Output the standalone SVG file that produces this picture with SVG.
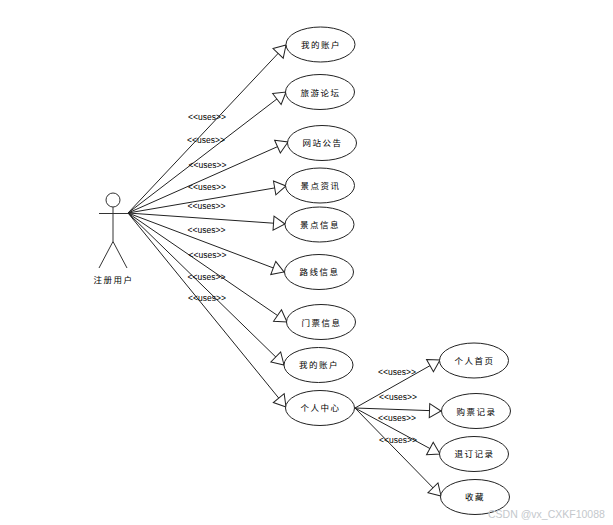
<svg xmlns="http://www.w3.org/2000/svg" width="613" height="525" viewBox="0 0 613 525">
<style>
.n{fill:#fff;stroke:#222;stroke-width:1}
.c{fill:none;stroke:#222;stroke-width:1;marker-end:url(#tri)}
.a{fill:none;stroke:#333;stroke-width:1}
text{font-family:"Liberation Sans","Noto Sans CJK SC",sans-serif;fill:#000;text-anchor:middle;dominant-baseline:central}
.t{font-size:8.5px;letter-spacing:1.5px}
.u{font-size:8.5px}
.w{font-size:10.5px;fill:#c4c8cc;text-anchor:start}
</style>
<defs>
<marker id="tri" markerUnits="userSpaceOnUse" markerWidth="14" markerHeight="18" refX="12" refY="8" orient="auto" overflow="visible">
<path d="M0.5,1 L12,8 L0.5,15 Z" fill="#fff" stroke="#222" stroke-width="1"/>
</marker>
</defs>
<rect width="613" height="525" fill="#fff"/>
<g id="connectors">
<path class="c" d="M128,213 L286,45"/>
<path class="c" d="M128,213 L286,92"/>
<path class="c" d="M128,213 L288,142"/>
<path class="c" d="M128,213 L286,186"/>
<path class="c" d="M128,213 L285,224"/>
<path class="c" d="M128,213 L284,272"/>
<path class="c" d="M128,213 L287,322"/>
<path class="c" d="M128,213 L284,365"/>
<path class="c" d="M128,213 L286,407"/>
<path class="c" d="M355,408 L440,360"/>
<path class="c" d="M355,408 L441,411"/>
<path class="c" d="M355,408 L440,454"/>
<path class="c" d="M355,408 L441,496"/>
<text class="u" x="207" y="116.5">&lt;&lt;uses&gt;&gt;</text>
<text class="u" x="206" y="140">&lt;&lt;uses&gt;&gt;</text>
<text class="u" x="207.5" y="164.5">&lt;&lt;uses&gt;&gt;</text>
<text class="u" x="207" y="186.5">&lt;&lt;uses&gt;&gt;</text>
<text class="u" x="206.5" y="205.5">&lt;&lt;uses&gt;&gt;</text>
<text class="u" x="206.5" y="229.5">&lt;&lt;uses&gt;&gt;</text>
<text class="u" x="207.5" y="254.5">&lt;&lt;uses&gt;&gt;</text>
<text class="u" x="206.5" y="276.5">&lt;&lt;uses&gt;&gt;</text>
<text class="u" x="207" y="297.5">&lt;&lt;uses&gt;&gt;</text>
<text class="u" x="397" y="371.5">&lt;&lt;uses&gt;&gt;</text>
<text class="u" x="398" y="396.5">&lt;&lt;uses&gt;&gt;</text>
<text class="u" x="397" y="417.5">&lt;&lt;uses&gt;&gt;</text>
<text class="u" x="398" y="439.5">&lt;&lt;uses&gt;&gt;</text>
</g>
<g id="actor">
<circle class="a" cx="113" cy="200" r="7"/>
<path class="a" d="M99,213.5 H128 M113,207 V241.5 L99,268 M113,241.5 L127,268"/>
<text class="t" x="113.5" y="280">注册用户</text>
</g>
<g id="n1"><ellipse class="n" cx="320.5" cy="44.5" rx="34.5" ry="17.5"/><text class="t" x="321" y="44.5">我的账户</text></g>
<g id="n2"><ellipse class="n" cx="320" cy="92" rx="34.5" ry="17.5"/><text class="t" x="320.5" y="93">旅游论坛</text></g>
<g id="n3"><ellipse class="n" cx="322" cy="143" rx="34.5" ry="17.5"/><text class="t" x="322.5" y="143">网站公告</text></g>
<g id="n4"><ellipse class="n" cx="320" cy="185.5" rx="34.5" ry="17.5"/><text class="t" x="320.5" y="186">景点资讯</text></g>
<g id="n5"><ellipse class="n" cx="319.5" cy="224.5" rx="34.5" ry="17.5"/><text class="t" x="320" y="225">景点信息</text></g>
<g id="n6"><ellipse class="n" cx="319" cy="272" rx="34.5" ry="17.5"/><text class="t" x="319.5" y="272">路线信息</text></g>
<g id="n7"><ellipse class="n" cx="321" cy="322" rx="34.5" ry="17.5"/><text class="t" x="321.5" y="322.5">门票信息</text></g>
<g id="n8"><ellipse class="n" cx="318.5" cy="365" rx="34.5" ry="17.5"/><text class="t" x="319" y="365">我的账户</text></g>
<g id="n9"><ellipse class="n" cx="320" cy="408" rx="34.5" ry="17.5"/><text class="t" x="320.5" y="408">个人中心</text></g>
<g id="n10"><ellipse class="n" cx="474" cy="360.5" rx="34.5" ry="17.5"/><text class="t" x="474.5" y="360.5">个人首页</text></g>
<g id="n11"><ellipse class="n" cx="476" cy="411" rx="34.5" ry="17.5"/><text class="t" x="476.5" y="411.5">购票记录</text></g>
<g id="n12"><ellipse class="n" cx="474" cy="454" rx="34.5" ry="17.5"/><text class="t" x="474.5" y="454">退订记录</text></g>
<g id="n13"><ellipse class="n" cx="475" cy="497" rx="34.5" ry="17.5"/><text class="t" x="475" y="497">收藏</text></g>
<text class="w" x="488" y="513.5">CSDN @vx_CXKF10088</text>
</svg>
